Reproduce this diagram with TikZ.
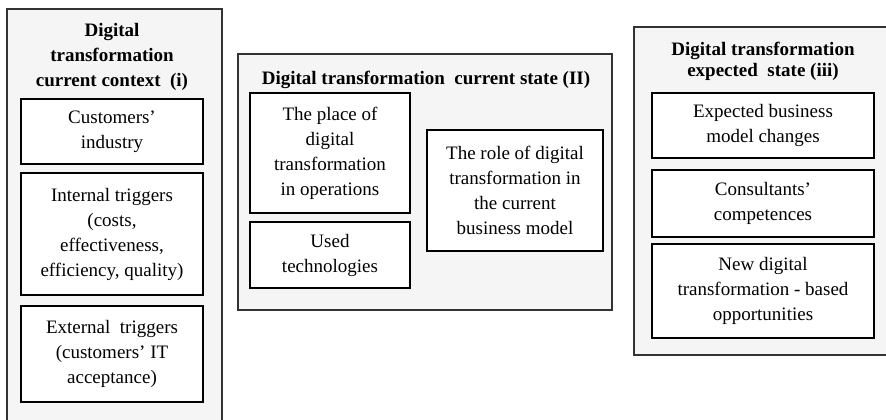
\documentclass[tikz,border=0pt]{standalone}
\usepackage{fontspec}
\setmainfont{Liberation Serif}
\begin{document}
\begin{tikzpicture}[x=1pt,y=-1pt,
  outer/.style={draw=black!80, line width=1.4pt, fill=black!4, inner sep=0pt},
  inbox/.style={draw=black, line width=1.3pt, fill=white, inner sep=0pt, align=center,
    font=\fontsize{19}{25}\selectfont},
  ttl/.style={inner sep=0pt, align=center, font=\fontsize{19}{25}\selectfont\bfseries}]
\useasboundingbox (0,0) rectangle (886,420);
% left column
\node[outer, minimum width=215pt, minimum height=420pt] (L) at (114.5,219) {};
\node[ttl] (Lt) at (112,57) {Digital\\transformation\\current context\ \ (i)};
\node[inbox, minimum width=182pt, minimum height=65pt] (L1) at (112,131.5) {Customers'\\industry};
\node[inbox, minimum width=182pt, minimum height=122pt] (L2) at (112,234) {Internal triggers\\(costs,\\effectiveness,\\efficiency, quality)};
\node[inbox, minimum width=182pt, minimum height=96pt] (L3) at (112,354) {External\ \ triggers\\(customers' IT\\acceptance)};
% middle
\node[outer, minimum width=374pt, minimum height=256pt] (M) at (425,182) {};
\node[ttl] (Mt) at (426,80) {Digital transformation\ \ current state (II)};
\node[inbox, minimum width=160pt, minimum height=120pt] (M1) at (330,153) {The place of\\digital\\transformation\\in operations};
\node[inbox, minimum width=160pt, minimum height=66pt] (M2) at (330,255) {Used\\technologies};
\node[inbox, minimum width=176pt, minimum height=121pt] (M3) at (515,190.5) {The role of digital\\transformation in\\the current\\business model};
% right
\node[outer, minimum width=272pt, minimum height=328pt] (R) at (770,191) {};
\node[ttl, font=\fontsize{19}{21}\selectfont\bfseries] (Rt) at (763,61) {Digital transformation\\expected\ \ state (iii)};
\node[inbox, minimum width=222pt, minimum height=65pt] (R1) at (763,125.5) {Expected business\\model changes};
\node[inbox, minimum width=222pt, minimum height=67pt] (R2) at (763,203.5) {Consultants'\\competences};
\node[inbox, minimum width=222pt, minimum height=94pt] (R3) at (763,291) {New digital\\transformation - based\\opportunities};
\end{tikzpicture}
\end{document}
